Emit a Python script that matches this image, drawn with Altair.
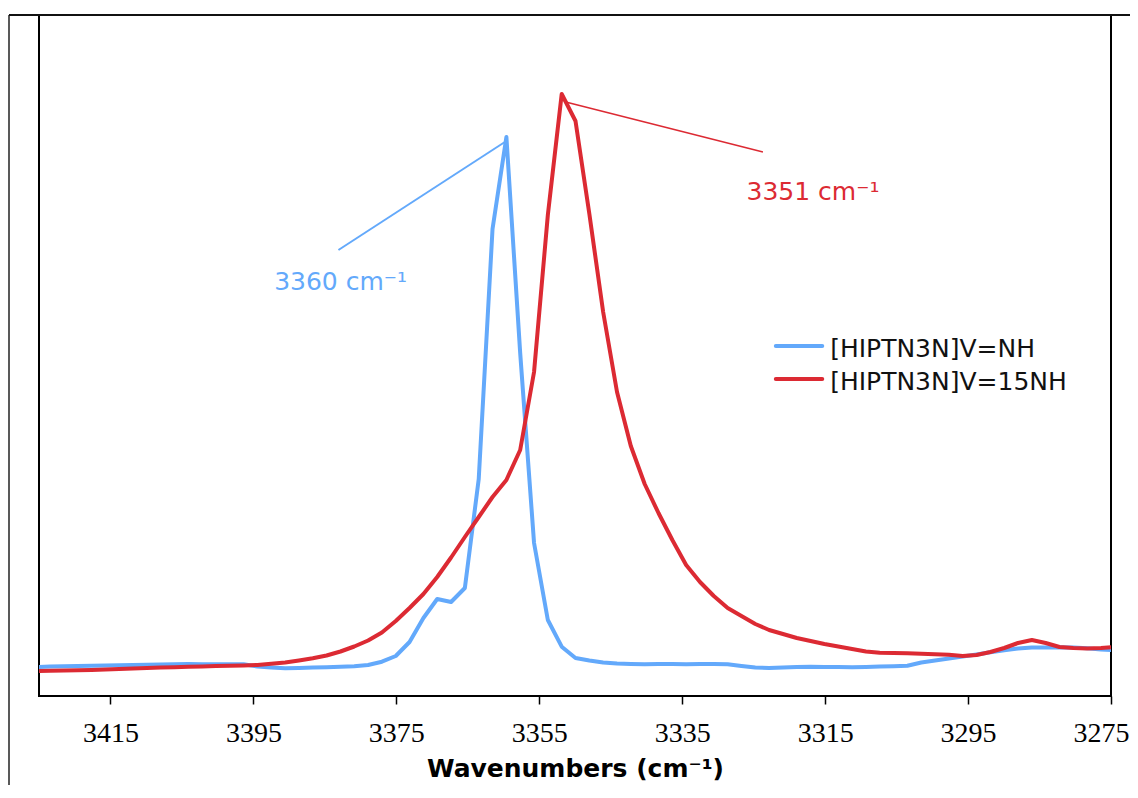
import altair as alt
import pandas as pd

# ---------------- data ----------------
wavenumber = [
    3425.39, 3423.46, 3421.52, 3419.59, 3417.65, 3415.72, 3413.78, 3411.85, 3409.91, 3407.98,
    3406.04, 3404.11, 3402.17, 3400.24, 3398.30, 3396.37, 3394.43, 3392.50, 3390.56, 3388.63,
    3386.69, 3384.76, 3382.82, 3380.89, 3378.95, 3377.02, 3375.08, 3373.15, 3371.21, 3369.28,
    3367.34, 3365.41, 3363.47, 3361.54, 3359.60, 3357.67, 3355.73, 3353.80, 3351.86, 3349.93,
    3347.99, 3346.06, 3344.12, 3342.19, 3340.25, 3338.32, 3336.38, 3334.45, 3332.51, 3330.58,
    3328.64, 3326.71, 3324.77, 3322.84, 3320.90, 3318.97, 3317.03, 3315.10, 3313.16, 3311.23,
    3309.29, 3307.36, 3305.42, 3303.49, 3301.55, 3299.62, 3297.68, 3295.75, 3293.81, 3291.88,
    3289.94, 3288.01, 3286.07, 3284.14, 3282.20, 3280.27, 3278.33, 3276.40, 3274.46,
]

v_nh = [
    2.90, 2.94, 2.97, 3.00, 3.02, 3.05, 3.07, 3.10, 3.12, 3.15,
    3.17, 3.20, 3.18, 3.17, 3.17, 3.17, 2.95, 2.85, 2.78, 2.80,
    2.84, 2.87, 2.92, 2.98, 3.10, 3.43, 4.00, 5.40, 7.80, 9.70,
    9.40, 10.80, 21.70, 46.70, 55.90, 34.30, 15.30, 7.60, 4.93, 3.80,
    3.55, 3.35, 3.25, 3.20, 3.17, 3.20, 3.20, 3.17, 3.20, 3.20,
    3.18, 3.00, 2.85, 2.80, 2.85, 2.90, 2.93, 2.90, 2.90, 2.87,
    2.90, 2.95, 2.98, 3.02, 3.35, 3.55, 3.75, 3.95, 4.15, 4.37,
    4.57, 4.75, 4.85, 4.85, 4.87, 4.85, 4.77, 4.65, 4.57,
]

v_15nh = [
    2.50, 2.53, 2.55, 2.58, 2.60, 2.65, 2.70, 2.75, 2.80, 2.84,
    2.88, 2.92, 2.96, 2.99, 3.02, 3.06, 3.10, 3.22, 3.35, 3.55,
    3.77, 4.05, 4.45, 4.95, 5.55, 6.35, 7.50, 8.80, 10.20, 11.90,
    13.85, 15.90, 17.90, 19.90, 21.60, 24.60, 32.40, 48.10, 60.20, 57.50,
    48.20, 38.40, 30.40, 25.00, 21.20, 18.30, 15.60, 13.10, 11.40, 10.00,
    8.80, 8.00, 7.20, 6.60, 6.20, 5.80, 5.50, 5.20, 4.95, 4.70,
    4.45, 4.33, 4.30, 4.27, 4.22, 4.17, 4.12, 4.00, 4.10, 4.40,
    4.80, 5.30, 5.60, 5.30, 4.90, 4.80, 4.75, 4.80, 4.90,
]

series_names = ["[HIPTN3N]V=NH", "[HIPTN3N]V=15NH"]
series_colors = ["#63a9fb", "#dc2a33"]
tick_values = [3415, 3395, 3375, 3355, 3335, 3315, 3295, 3275]

peak_labels = ["3360 cm\u207b\u00b9", "3351 cm\u207b\u00b9"]
peak_label_x = [3392.1, 3326.0]
peak_label_y = [40.6, 49.6]
leader_x = [3383.1, 3351.3]
leader_y = [44.6, 59.4]
leader_x2 = [3359.6, 3323.7]
leader_y2 = [55.5, 54.4]

legend_line_x = [3321.9, 3321.9]
legend_line_x2 = [3315.4, 3315.4]
legend_line_y = [35.0, 31.7]
legend_text_x = [3314.3, 3314.3]
legend_text_y = [33.9, 30.6]

# ---------------- tables ----------------
df_nh = pd.DataFrame({"wavenumber": wavenumber, "absorbance": v_nh})
df_15 = pd.DataFrame({"wavenumber": wavenumber, "absorbance": v_15nh})
df_ann = pd.DataFrame({
    "label": peak_labels, "lx": peak_label_x, "ly": peak_label_y,
    "x": leader_x, "y": leader_y, "x2": leader_x2, "y2": leader_y2,
    "color": series_colors, "w": [2.0, 1.5],
})
df_leg = pd.DataFrame({
    "name": series_names, "color": series_colors,
    "x": legend_line_x, "x2": legend_line_x2, "y": legend_line_y,
    "tx": legend_text_x, "ty": legend_text_y,
})

TITLE = "Wavenumbers (cm\u207b\u00b9)"
xscale = alt.Scale(domain=[3275, 3425], reverse=True, nice=False, zero=False)
yscale = alt.Scale(domain=[0, 68.1], nice=False, zero=False)

xaxis = alt.Axis(
    values=tick_values, format="d", title=TITLE,
    domain=False, grid=False, ticks=True, tickColor="#000", tickWidth=1.5, tickSize=8,
    labelFont="Liberation Serif", labelFontSize=28, labelColor="#000", labelPadding=15,
    labelFlush=True, labelFlushOffset=18, labelOverlap=False,
    titleFont="DejaVu Sans", titleFontSize=25, titleFontWeight="bold", titleColor="#000",
    titlePadding=9,
)


def xenc(field):
    return alt.X(field, scale=xscale, axis=xaxis, title=TITLE)


def yenc(field):
    return alt.Y(field, scale=yscale, axis=None)


line_nh = alt.Chart(df_nh).mark_line(
    color=series_colors[0], strokeWidth=4, clip=True, strokeJoin="round"
).encode(x=xenc("wavenumber:Q"), y=yenc("absorbance:Q"))
line_15 = alt.Chart(df_15).mark_line(
    color=series_colors[1], strokeWidth=4, clip=True, strokeJoin="round"
).encode(x=xenc("wavenumber:Q"), y=yenc("absorbance:Q"))

leaders = alt.Chart(df_ann).mark_rule().encode(
    x=xenc("x:Q"), y=yenc("y:Q"), x2="x2:Q", y2="y2:Q",
    color=alt.Color("color:N", scale=None),
    strokeWidth=alt.StrokeWidth("w:Q", scale=None),
)
peak_text = alt.Chart(df_ann).mark_text(
    align="left", baseline="alphabetic", font="DejaVu Sans", fontSize=25
).encode(
    x=xenc("lx:Q"), y=yenc("ly:Q"),
    text="label:N", color=alt.Color("color:N", scale=None),
)

leg_lines = alt.Chart(df_leg).mark_rule(strokeWidth=4, strokeCap="round").encode(
    x=xenc("x:Q"), x2="x2:Q", y=yenc("y:Q"), color=alt.Color("color:N", scale=None),
)
leg_text = alt.Chart(df_leg).mark_text(
    align="left", baseline="alphabetic", font="DejaVu Sans", fontSize=25, color="#111"
).encode(
    x=xenc("tx:Q"), y=yenc("ty:Q"), text="name:N",
)

one = pd.DataFrame({"a": [0]})
outer_left = alt.Chart(one).mark_rule(color="#222", strokeWidth=1.5).encode(
    x=alt.value(-30), y=alt.value(0), y2=alt.value(800)
)
outer_top = alt.Chart(one).mark_rule(color="#111", strokeWidth=2).encode(
    x=alt.value(-30), x2=alt.value(1140), y=alt.value(0)
)

chart = alt.layer(
    line_nh, line_15, leaders, peak_text, leg_lines, leg_text, outer_left, outer_top
).properties(
    width=1072, height=681,
    autosize=alt.AutoSizeParams(type="none"),
    padding={"left": 31, "top": 7, "right": 19, "bottom": 89},
).configure(
    background="white",
    view=alt.ViewConfig(stroke="#000", strokeWidth=2),
)

chart.save("out.html", embed_options={"renderer": "svg", "actions": False})
